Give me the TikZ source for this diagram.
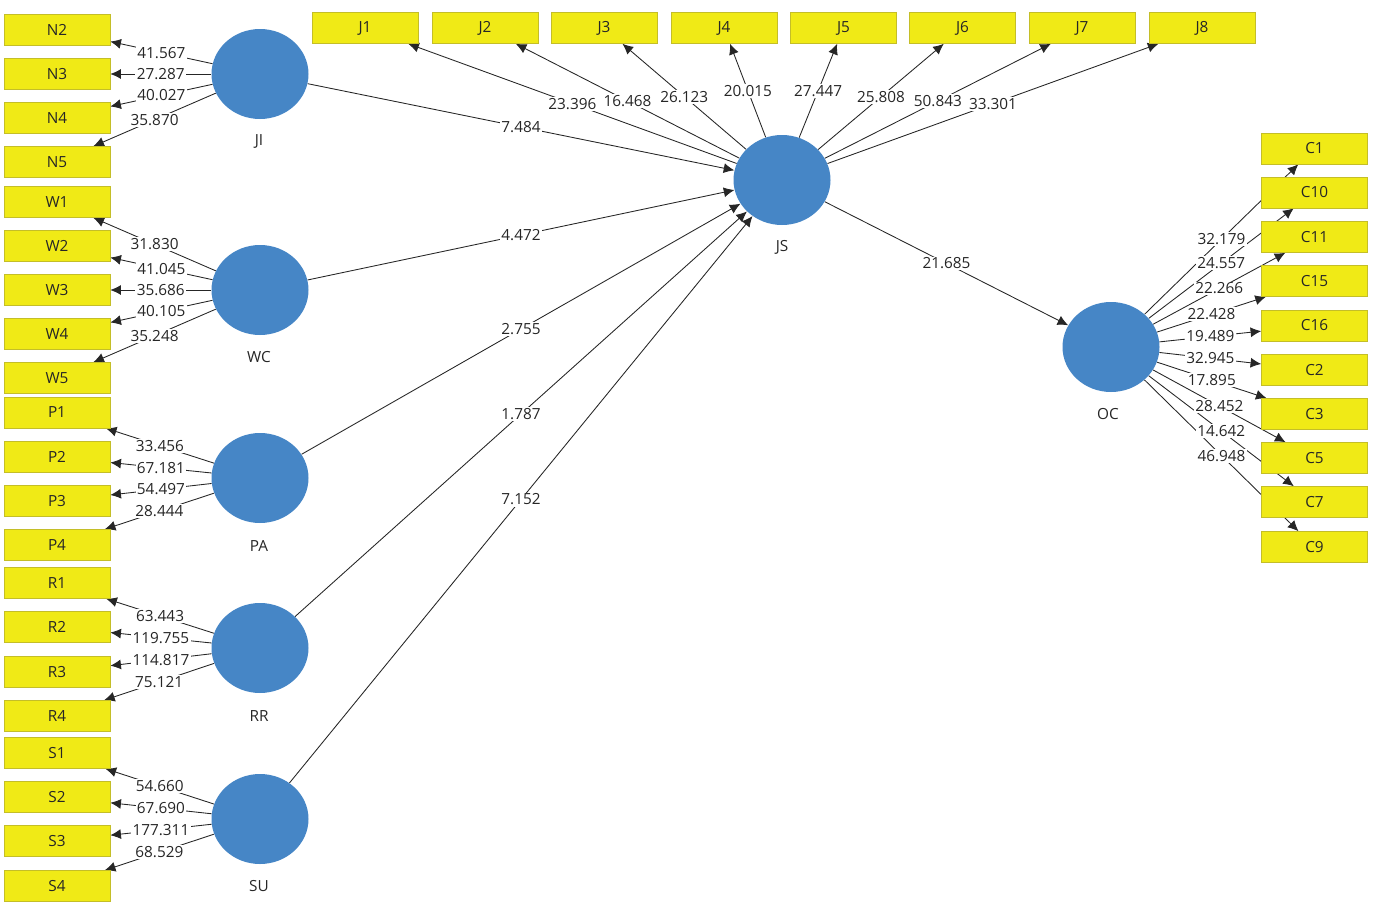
\documentclass[tikz,border=0pt]{standalone}
\usepackage{fontspec}
\setmainfont{Open Sans}
\usetikzlibrary{shapes.geometric,arrows.meta}
\pgfdeclarelayer{edges}
\pgfsetlayers{edges,main}
\definecolor{indf}{RGB}{240,234,22}
\definecolor{indb}{RGB}{196,190,40}
\definecolor{latf}{RGB}{70,134,198}
\newcommand\lnk[3]{%
  \begin{pgfonlayer}{edges}\draw[arr] (#1) -- (#2);\end{pgfonlayer}
  \path (#1) -- node[lbl]{#3} (#2);}
\begin{document}
\begin{tikzpicture}[x=0.75pt,y=-0.75pt,font=\fontsize{11.5}{13}\selectfont,
  ind/.style={rectangle,draw=indb,fill=indf,minimum width=79.5pt,minimum height=23.25pt,inner sep=0pt,text=black!85},
  lat/.style={ellipse,fill=latf,minimum width=72.75pt,minimum height=67.5pt,inner sep=0pt},
  latcap/.style={text=black!85,inner sep=1pt},
  lbl/.style={fill=white,inner sep=1pt,text=black!85},
  arr/.style={-{Latex[length=8pt,width=7.5pt]},line width=0.65pt,black!85}]
\useasboundingbox (0,0) rectangle (1387,903);
% left indicators
\foreach \n/\y in {N2/30,N3/74,N4/118,N5/162,W1/202,W2/246,W3/290,W4/334,W5/378,P1/412.5,P2/457,P3/501,P4/545,R1/583,R2/627,R3/672,R4/716,S1/753,S2/797,S3/841,S4/886}
  \node[ind] (\n) at (57,\y) {\n};
% top indicators
\foreach \n/\x in {J1/365,J2/485,J3/604,J4/724,J5/843.5,J6/962.5,J7/1082,J8/1202}
  \node[ind] (\n) at (\x,28) {\n};
% right indicators
\foreach \n/\y in {C1/148.5,C10/192.5,C11/237,C15/281,C16/325.5,C2/370,C3/414,C5/458,C7/502,C9/547}
  \node[ind] (\n) at (1314.5,\y) {\n};
% latent variables
\node[lat] (JI) at (260,74) {};
\node[lat] (WC) at (260,290) {};
\node[lat] (PA) at (260,478) {};
\node[lat] (RR) at (260,648) {};
\node[lat] (SU) at (260,819) {};
\node[lat] (JS) at (782,180) {};
\node[lat] (OC) at (1111,347) {};
\node[latcap] (JIc) at (259,141) {JI};
\node[latcap] (WCc) at (259,357) {WC};
\node[latcap] (PAc) at (259,546) {PA};
\node[latcap] (RRc) at (259,716) {RR};
\node[latcap] (SUc) at (259,886) {SU};
\node[latcap] (JSc) at (782,247) {JS};
\node[latcap] (OCc) at (1108,414) {OC};
% loadings
\lnk{JI}{N2}{41.567}\lnk{JI}{N3}{27.287}\lnk{JI}{N4}{40.027}\lnk{JI}{N5}{35.870}
\lnk{WC}{W1}{31.830}\lnk{WC}{W2}{41.045}\lnk{WC}{W3}{35.686}\lnk{WC}{W4}{40.105}\lnk{WC}{W5}{35.248}
\lnk{PA}{P1}{33.456}\lnk{PA}{P2}{67.181}\lnk{PA}{P3}{54.497}\lnk{PA}{P4}{28.444}
\lnk{RR}{R1}{63.443}\lnk{RR}{R2}{119.755}\lnk{RR}{R3}{114.817}\lnk{RR}{R4}{75.121}
\lnk{SU}{S1}{54.660}\lnk{SU}{S2}{67.690}\lnk{SU}{S3}{177.311}\lnk{SU}{S4}{68.529}
\lnk{JS}{J1}{23.396}\lnk{JS}{J2}{16.468}\lnk{JS}{J3}{26.123}\lnk{JS}{J4}{20.015}
\lnk{JS}{J5}{27.447}\lnk{JS}{J6}{25.808}\lnk{JS}{J7}{50.843}\lnk{JS}{J8}{33.301}
\lnk{OC}{C1}{32.179}\lnk{OC}{C10}{24.557}\lnk{OC}{C11}{22.266}\lnk{OC}{C15}{22.428}
\lnk{OC}{C16}{19.489}\lnk{OC}{C2}{32.945}\lnk{OC}{C3}{17.895}\lnk{OC}{C5}{28.452}
\lnk{OC}{C7}{14.642}\lnk{OC}{C9}{46.948}
% structural paths
\lnk{JI}{JS}{7.484}\lnk{WC}{JS}{4.472}\lnk{PA}{JS}{2.755}
\lnk{RR}{JS}{1.787}\lnk{SU}{JS}{7.152}\lnk{JS}{OC}{21.685}
\end{tikzpicture}
\end{document}
